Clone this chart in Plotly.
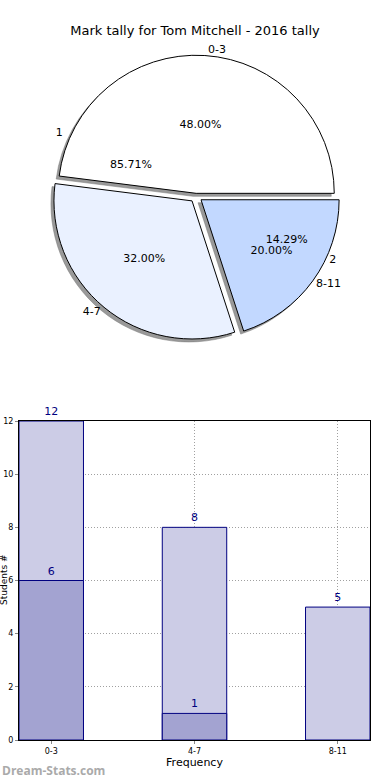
import plotly.graph_objects as go

title = "Mark tally for Tom Mitchell - 2016 tally"
ranges = ["0-3", "4-7", "8-11"]
range_counts = [12, 8, 5]
groups = ["1", "2"]
group_counts = [6, 1]
bar_all = [12, 8, 5]
bar_sub = [6, 1, None]

FONT = "DejaVu Sans"
pie_colors = ["#ffffff", "#eaf1ff", "#c2d8ff"]
pulls = [0.02, 0.045, 0.045]


def start_at_three(values):
    # plotly places the first slice clockwise of `rotation` when counterclockwise;
    # rotate so the first slice begins at 3 o'clock and runs counterclockwise
    return 90 - 360 * values[0] / sum(values)


cy, hh = 0.735, 0.195
sdx, sdy = 3 / 351, 3 / 740
dom = dict(x=[sdx, 1], y=[cy - hh, cy + hh])
shadow_dom = dict(x=[0, 1 - sdx], y=[cy - hh - sdy, cy + hh - sdy])

fig = go.Figure()
rotA = start_at_three(range_counts)
rotB = start_at_three(group_counts)
common = dict(sort=False, direction="counterclockwise", hoverinfo="skip", showlegend=False)

# shadow
fig.add_trace(go.Pie(labels=ranges, values=range_counts, domain=shadow_dom, rotation=rotA,
                     marker=dict(colors=["#999999"] * 3, line=dict(color="#777777", width=0.5)),
                     pull=pulls, textinfo="none", **common))
# main pie
fig.add_trace(go.Pie(labels=ranges, values=range_counts, domain=dom, rotation=rotA,
                     marker=dict(colors=pie_colors, line=dict(color="black", width=1)),
                     pull=pulls, texttemplate="%{percent:.2%}", textposition="inside",
                     insidetextorientation="horizontal",
                     textfont=dict(family=FONT, size=11, color="black"), **common))
fig.add_trace(go.Pie(labels=ranges, values=range_counts, domain=dom, rotation=rotA,
                     marker=dict(colors=["rgba(0,0,0,0)"] * 3, line=dict(width=0)),
                     pull=pulls, texttemplate="%{label}", textposition="outside",
                     textfont=dict(family=FONT, size=11, color="black"), **common))
# second pie (transparent)
fig.add_trace(go.Pie(labels=groups, values=group_counts, domain=dom, rotation=rotB,
                     marker=dict(colors=["rgba(0,0,0,0)"] * 2, line=dict(width=0)),
                     texttemplate="%{percent:.2%}", textposition="inside",
                     insidetextorientation="horizontal",
                     textfont=dict(family=FONT, size=11, color="black"), **common))
fig.add_trace(go.Pie(labels=groups, values=group_counts, domain=dom, rotation=rotB,
                     marker=dict(colors=["rgba(0,0,0,0)"] * 2, line=dict(width=0)),
                     texttemplate="%{label}", textposition="outside",
                     textfont=dict(family=FONT, size=11, color="black"), **common))

# bars
fig.add_trace(go.Bar(x=ranges, y=bar_all, width=0.45,
                     marker=dict(color="#ccccE6", line=dict(color="#000080", width=1)),
                     text=[str(v) for v in bar_all], textposition="outside",
                     textfont=dict(family=FONT, size=11, color="#000080"),
                     cliponaxis=False, showlegend=False, hoverinfo="skip"))
fig.add_trace(go.Bar(x=ranges, y=bar_sub, width=0.45,
                     marker=dict(color="#a3a3d1", line=dict(color="#000080", width=1)),
                     text=[str(v) if v is not None else "" for v in bar_sub], textposition="outside",
                     textfont=dict(family=FONT, size=11, color="#000080"),
                     cliponaxis=False, showlegend=False, hoverinfo="skip"))

fig.update_layout(
    width=390, height=780,
    margin=dict(l=19, r=20, t=0, b=40, autoexpand=False),
    paper_bgcolor="white", plot_bgcolor="white",
    barmode="overlay",
    font=dict(family=FONT, size=11, color="black"),
    title=dict(text=title, x=0.5, xanchor="center", y=1 - 30 / 780, yanchor="middle",
               font=dict(family=FONT, size=13, color="black")),
    xaxis=dict(type="category", range=[-0.225, 2.225], showline=True, linecolor="black",
               mirror=True, showgrid=True, gridcolor="#a0a0a0", griddash="1px,2px",
               ticks="outside", ticklen=3, tickcolor="#888888", automargin=False,
               tickfont=dict(family=FONT, size=8, color="black"),
               title=dict(text="Frequency", font=dict(family=FONT, size=11), standoff=1)),
    yaxis=dict(domain=[0, 319 / 740], range=[0, 12], dtick=2, showline=True, linecolor="black",
               mirror=True, showgrid=True, gridcolor="#a0a0a0", griddash="1px,2px",
               zeroline=False, ticks="outside", ticklen=3, tickcolor="#888888", automargin=False,
               tickfont=dict(family=FONT, size=8, color="black")),
    annotations=[
        dict(text="Students #", xref="paper", yref="paper", x=-15 / 351, y=(740 - 580) / 740,
             xanchor="center", yanchor="middle", textangle=-90, showarrow=False,
             font=dict(family=FONT, size=9, color="black")),
        dict(text="<b>Dream-Stats.com</b>", xref="paper", yref="paper", x=-19 / 351, y=-30 / 740,
             xanchor="left", yanchor="middle", showarrow=False,
             font=dict(family="Open Sans", size=12, color="#aaaaaa")),
    ],
)

fig.write_html("out.html", config={"displayModeBar": False},
               post_script="document.body.style.margin='0';")
